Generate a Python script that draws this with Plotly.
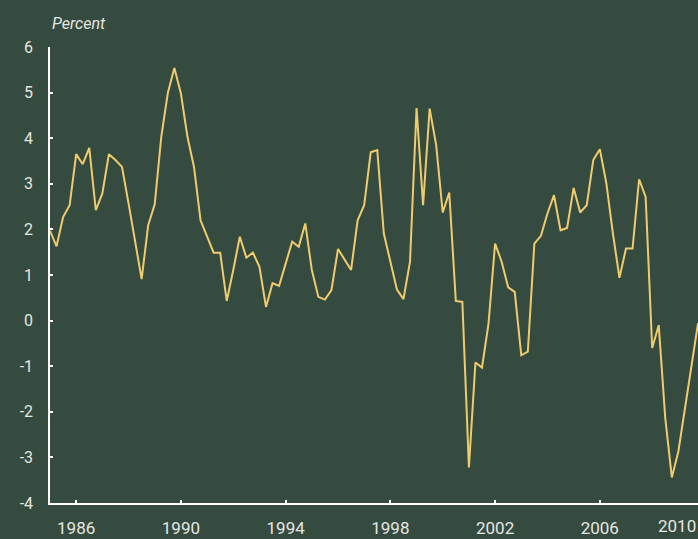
import plotly.graph_objects as go

# Quarterly values, 1985Q1 .. 2009Q4 (percent)
start_year = 1985
values = [
    1.97, 1.63, 2.27, 2.53, 3.65, 3.43, 3.79, 2.42, 2.79, 3.65,
    3.52, 3.37, 2.57, 1.73, 0.91, 2.09, 2.55, 4.03, 4.99, 5.54,
    4.98, 4.03, 3.37, 2.20, 1.84, 1.49, 1.49, 0.43, 1.11, 1.84,
    1.38, 1.49, 1.18, 0.30, 0.82, 0.76, 1.25, 1.73, 1.62, 2.13,
    1.11, 0.52, 0.46, 0.67, 1.57, 1.35, 1.11, 2.20, 2.53, 3.69,
    3.74, 1.91, 1.29, 0.68, 0.47, 1.29, 4.66, 2.53, 4.65, 3.85,
    2.37, 2.81, 0.43, 0.41, -3.22, -0.92, -1.03, -0.06, 1.69, 1.29,
    0.73, 0.63, -0.76, -0.68, 1.69, 1.86, 2.35, 2.75, 1.98, 2.03,
    2.91, 2.37, 2.53, 3.52, 3.76, 3.01, 1.91, 0.94, 1.58, 1.58,
    3.10, 2.71, -0.60, -0.10, -2.14, -3.44, -2.87, -1.92, -1.01, -0.06,
]
x_dates = [start_year + i / 4 for i in range(len(values))]

x_tick_vals = [1986, 1990, 1994, 1998, 2002, 2006]
x_tick_text = ["1986", "1990", "1994", "1998", "2002", "2006"]
last_label = "2010"
y_tick_vals = [-4, -3, -2, -1, 0, 1, 2, 3, 4, 5, 6]
y_tick_text = ["-4", "-3", "-2", "-1", "0", "1", "2", "3", "4", "5", "6"]
y_title = "Percent"

bg = "#354b3f"
line_color = "#f0cb6e"
text_color = "#e6e6e2"
font_family = "Roboto, sans-serif"

fig = go.Figure()
fig.add_trace(go.Scatter(
    x=x_dates, y=values, mode="lines",
    line=dict(color=line_color, width=2),
    hoverinfo="x+y",
))

fig.update_layout(
    width=698, height=539,
    paper_bgcolor=bg, plot_bgcolor=bg,
    margin=dict(l=50, r=0, t=47, b=36),
    showlegend=False,
    font=dict(family=font_family, color=text_color, size=17),
    xaxis=dict(
        range=[x_dates[0], x_dates[-1]],
        tickvals=x_tick_vals, ticktext=x_tick_text,
        showgrid=False, zeroline=False,
        showline=True, linecolor="white", linewidth=1.5,
        ticks="inside", ticklen=3, tickcolor="white", tickwidth=1.5,
        tickfont=dict(size=17),
        ticklabelstandoff=9,
    ),
    yaxis=dict(
        range=[-4, 6],
        tickvals=y_tick_vals, ticktext=y_tick_text,
        showgrid=False, zeroline=False,
        showline=True, linecolor="white", linewidth=1.5,
        ticks="inside", ticklen=3, tickcolor="white", tickwidth=1.5,
        tickfont=dict(size=16),
        ticklabelstandoff=12,
    ),
    annotations=[
        dict(text="<i>" + y_title + "</i>", xref="paper", yref="paper",
             x=0, y=1.0526, xanchor="left", yanchor="middle",
             showarrow=False, font=dict(size=16, color=text_color)),
        dict(text=last_label, xref="paper", yref="paper",
             x=1, y=0, xanchor="right", yanchor="top", yshift=-11,
             showarrow=False, font=dict(size=17, color=text_color)),
    ],
)

fig.write_html("out.html", config={"displayModeBar": False},
               post_script="document.body.style.margin='0';")
